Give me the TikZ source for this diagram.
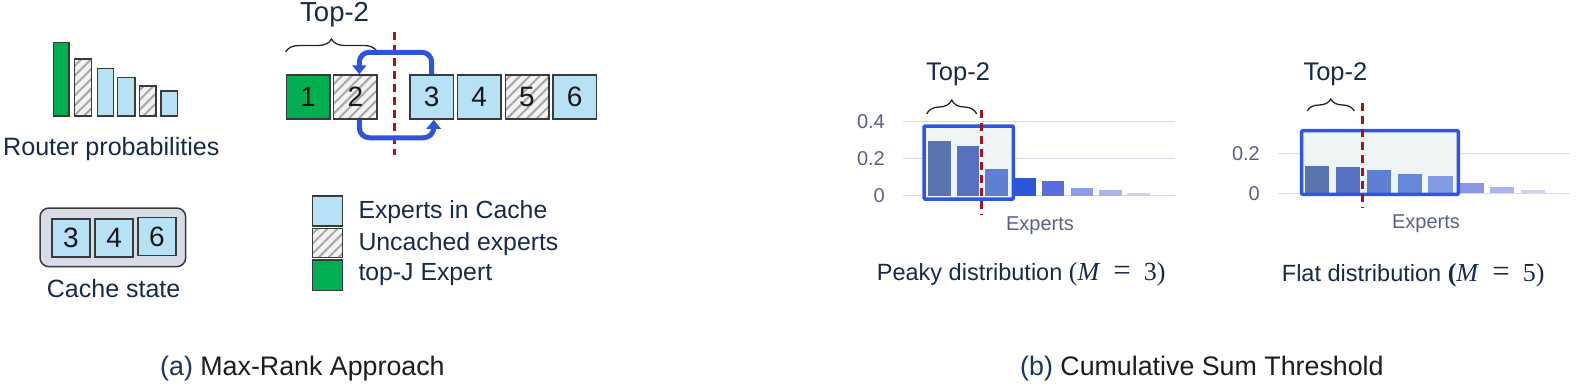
\RequirePackage{fix-cm}
\documentclass[tikz,border=0pt]{standalone}
\usepackage{fontspec}
\setmainfont{Liberation Sans}
\newfontfamily\mathlike{Liberation Serif}
\usetikzlibrary{patterns.meta,decorations.pathreplacing,arrows.meta}
\definecolor{navy}{HTML}{162B48}
\definecolor{capnavy}{HTML}{17365D}
\definecolor{capblack}{HTML}{1C1C1C}
\definecolor{boxborder}{HTML}{3A3A3A}
\definecolor{cacheblue}{HTML}{B7E2F6}
\definecolor{topgreen}{HTML}{00B050}
\definecolor{hatchbg}{HTML}{F2F2F2}
\definecolor{hatchline}{HTML}{A8A8A8}
\definecolor{cachebg}{HTML}{D7DCE6}
\definecolor{redcut}{HTML}{A3141B}
\definecolor{flowblue}{HTML}{2D55DC}
\definecolor{hlblue}{HTML}{2E57E0}
\definecolor{hlfill}{HTML}{EFF4F4}
\definecolor{gridc}{HTML}{D9DCE8}
\definecolor{axislab}{HTML}{5A6184}
\definecolor{ba}{HTML}{5A73AF}
\definecolor{bb}{HTML}{5870C0}
\definecolor{bc}{HTML}{5F7FD2}
\definecolor{bd}{HTML}{2D55D7}
\definecolor{be}{HTML}{586CDE}
\definecolor{bf}{HTML}{8C9BE6}
\definecolor{bg}{HTML}{AAB4EC}
\definecolor{bh}{HTML}{CDD2F2}
\definecolor{fd}{HTML}{6688DB}
\definecolor{fe}{HTML}{829BE2}
\definecolor{ff}{HTML}{8C96E6}
\newcommand{\mvar}[3]{{\fontsize{26}{28}\mathlike#1\textit{M}\hspace{0.5em}{\fontsize{31}{31}\selectfont =}\hspace{0.5em}#3)}}
\begin{document}
\begin{tikzpicture}[x=1pt,y=-1pt,
  exbox/.style={draw=boxborder,line width=1.5pt,minimum width=43.5pt,minimum height=44pt,inner sep=0pt,
    font=\fontsize{28}{30}\selectfont,text=black!90},
  smallbox/.style={exbox,minimum width=38pt,minimum height=38pt},
  cachedfill/.style={fill=cacheblue},
  hatchfill/.style={preaction={fill=hatchbg},pattern={Lines[angle=45,distance=7pt,line width=2pt]},pattern color=hatchline},
  topjfill/.style={fill=topgreen},
  rbar/.style={draw=boxborder,line width=1.3pt},
  lgsq/.style={draw=boxborder,line width=1.5pt},
  flowarrow/.style={draw=flowblue,line width=5pt,rounded corners=10pt,-{Triangle[length=9pt,width=14pt]}},
  cutline/.style={draw=redcut,line width=2.5pt,dash pattern=on 8pt off 5pt},
  bracestyle/.style={draw=black!85,line width=1.3pt,decorate,decoration={brace,amplitude=#1}},
  navytext/.style={text=navy,inner sep=0pt},
  gridline/.style={draw=gridc,line width=1.5pt},
  ticklab/.style={text=axislab,inner sep=0pt,anchor=base east,font=\fontsize{20}{22}\selectfont},
  hlbox/.style={draw=hlblue,line width=3.5pt,rounded corners=1pt},
  legendtext/.style={navytext,anchor=base west,font=\fontsize{24.8}{28}\selectfont}
]
\useasboundingbox (0,0) rectangle (1578,388);

% ---------- (a) Router probabilities ----------
\draw[rbar,topjfill] (53.3,42.7) rectangle (69,116);
\draw[rbar,hatchfill] (74.7,59) rectangle (91.7,116);
\draw[rbar,cachedfill] (97.7,68.3) rectangle (113.3,116);
\draw[rbar,cachedfill] (117.7,77.7) rectangle (135,116);
\draw[rbar,hatchfill] (139.3,86) rectangle (156,116);
\draw[rbar,cachedfill] (161,91) rectangle (177.7,116);
\node[navytext,anchor=base west,font=\fontsize{25.1}{28}\selectfont] (routerlab) at (3,155) {Router probabilities};

% ---------- Cache state ----------
\draw[draw=boxborder,line width=1.5pt,fill=cachebg,rounded corners=9pt] (40,208) rectangle (185.7,266.7);
\node[smallbox,cachedfill] (c3) at (70.8,238) {3};
\node[smallbox,cachedfill] (c4) at (114.2,238) {4};
\node[smallbox,cachedfill] (c6) at (156.8,236.5) {6};
\node[navytext,anchor=base west,font=\fontsize{25}{28}\selectfont] (cachelab) at (46.7,297.7) {Cache state};

% ---------- Expert row ----------
\node[exbox,topjfill] (b1) at (308,97) {1};
\node[exbox,hatchfill] (b2) at (355.3,97) {2};
\node[exbox,cachedfill] (b3) at (431.7,97) {3};
\node[exbox,cachedfill] (b4) at (479.2,97) {4};
\node[exbox,hatchfill] (b5) at (527,97) {5};
\node[exbox,cachedfill] (b6) at (574.7,97) {6};
\node[navytext,anchor=base west,font=\fontsize{27.5}{30}\selectfont] (top2a) at (300,21.7) {Top-2};
\draw[bracestyle=13pt] (285.7,52) -- (377.3,52);
\coordinate (cutatop) at (394.3,32.3);
\coordinate (cutabot) at (394.3,155);
\draw[cutline] (cutatop) -- (cutabot);
\draw[flowarrow] (b3.north) -- ++(0,-22) -| ([xshift=4pt]b2.north);
\draw[flowarrow] ([xshift=4pt]b2.south) -- ++(0,18) -| ([xshift=2pt]b3.south);

% ---------- Legend ----------
\draw[lgsq,cachedfill] (312.7,196) rectangle (342.7,226);
\draw[lgsq,hatchfill] (312.7,228.3) rectangle (342.7,257.7);
\draw[lgsq,topjfill] (312.7,260) rectangle (342.7,290.7);
\node[legendtext] (lg1) at (358.3,218.3) {Experts in Cache};
\node[legendtext] (lg2) at (358.3,250) {Uncached experts};
\node[legendtext] (lg3) at (358.3,280.7) {top-J Expert};

% ---------- Captions ----------
\node[inner sep=0pt,anchor=base west,font=\fontsize{26.8}{30}\selectfont] (capa) at (160,375) {\textcolor{capnavy}{(a)} \textcolor{capblack}{Max-Rank Approach}};
\node[inner sep=0pt,anchor=base west,font=\fontsize{26.8}{30}\selectfont] (capb) at (1020,375) {\textcolor{capnavy}{(b)} \textcolor{capblack}{Cumulative Sum Threshold}};

% ---------- (b) Peaky chart ----------
\draw[gridline] (903,121.7) -- (1175,121.7);
\draw[gridline] (903,158.3) -- (1175,158.3);
\draw[gridline] (903,195.7) -- (1175,195.7);
\node[ticklab] (p04) at (885,128.7) {0.4};
\node[ticklab] (p02) at (885,165.3) {0.2};
\node[ticklab] (p00) at (885,202.7) {0};
\fill[hlfill] (924,126) rectangle (1013.3,199);
\fill[ba] (928.3,140.7) rectangle (951,195.7);
\fill[bb] (956.7,146) rectangle (979.3,195.7);
\fill[bc] (985,168.7) rectangle (1007.7,195.7);
\fill[bd] (1013.3,178.3) rectangle (1036,195.7);
\fill[be] (1042.3,181) rectangle (1064.3,195.7);
\fill[bf] (1070.7,187.7) rectangle (1093.3,195.7);
\fill[bg] (1099,190.3) rectangle (1121.7,195.7);
\fill[bh] (1127.3,193) rectangle (1150,195.7);
\draw[hlbox] (924,126) rectangle (1013.3,199);
\node[navytext,anchor=base west,font=\fontsize{25.5}{28}\selectfont] (top2b) at (926,80) {Top-2};
\draw[bracestyle=14pt] (926.7,114) -- (976.7,114);
\coordinate (cutbtop) at (981.7,110);
\coordinate (cutbbot) at (981.7,215);
\draw[cutline] (cutbtop) -- (cutbbot);
\node[text=axislab,inner sep=0pt,anchor=base,font=\fontsize{20}{22}\selectfont] (expb) at (1040,230) {Experts};
\node[navytext,anchor=base west,font=\fontsize{23.5}{26}\selectfont] (peaky) at (876.7,280) {Peaky distribution \mvar{(}{M}{3}};

% ---------- (b) Flat chart ----------
\draw[gridline] (1278,153.3) -- (1570,153.3);
\draw[gridline] (1278,193.3) -- (1570,193.3);
\node[ticklab] (f02) at (1260,160.3) {0.2};
\node[ticklab] (f00) at (1260,200.3) {0};
\fill[hlfill] (1301.7,130.7) rectangle (1458.3,194.3);
\fill[ba] (1305,166) rectangle (1329.3,193.3);
\fill[bb] (1335.9,167.3) rectangle (1360.2,193.3);
\fill[bc] (1366.7,170) rectangle (1391,193.3);
\fill[fd] (1397.6,174) rectangle (1421.9,193.3);
\fill[fe] (1428.4,175.7) rectangle (1452.7,193.3);
\fill[ff] (1459.3,183.3) rectangle (1483.6,193.3);
\fill[bg] (1490.1,187.3) rectangle (1514.4,193.3);
\fill[bh] (1521,190) rectangle (1545.3,193.3);
\draw[hlbox] (1301.7,130.7) rectangle (1458.3,194.3);
\node[navytext,anchor=base west,font=\fontsize{25.5}{28}\selectfont] (top2c) at (1303.3,80) {Top-2};
\draw[bracestyle=12pt] (1307.3,111) -- (1354.3,111);
\coordinate (cutctop) at (1362.7,103.3);
\coordinate (cutcbot) at (1362.7,208.3);
\draw[cutline] (cutctop) -- (cutcbot);
\node[text=axislab,inner sep=0pt,anchor=base,font=\fontsize{20}{22}\selectfont] (expc) at (1426,228.5) {Experts};
\node[navytext,anchor=base west,font=\fontsize{23.5}{26}\selectfont] (flat) at (1281.7,281) {Flat distribution \mvar{\textbf{(}}{M}{5}};
\end{tikzpicture}
\end{document}
